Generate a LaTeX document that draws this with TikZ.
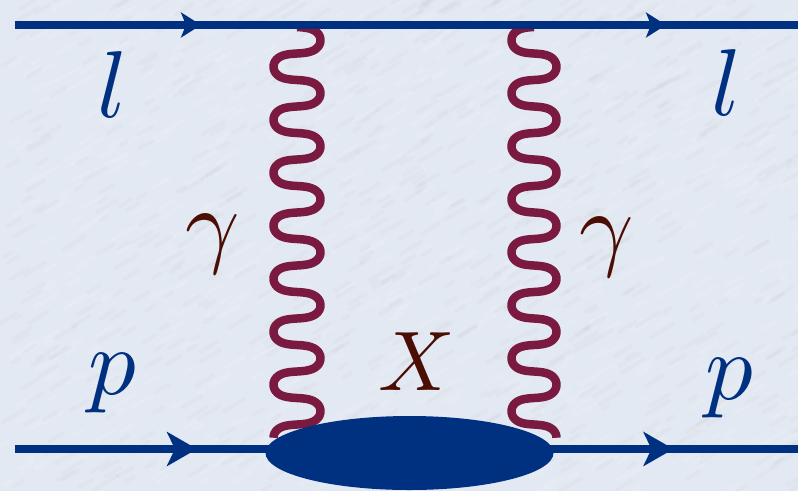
\documentclass[tikz,border=0pt]{standalone}
\usetikzlibrary{shapes.geometric,arrows.meta,decorations.markings,backgrounds}
\definecolor{paper}{HTML}{E3E9F2}
\definecolor{fermion}{HTML}{003080}
\definecolor{boson}{HTML}{7A1A40}
\definecolor{darkred}{HTML}{4A0E05}
\tikzset{
  fermionline/.style={draw=fermion,line width=8pt},
  tipsmall/.style={postaction={decorate},decoration={markings,mark=at position #1 with {\arrow[fermion]{Stealth[length=20pt,width=25pt,inset=5pt]}}}},
  tipbig/.style={postaction={decorate},decoration={markings,mark=at position #1 with {\arrow[fermion]{Stealth[length=30pt,width=34pt,inset=8pt]}}}},
  photonline/.style={draw=boson,line width=8.5pt,line join=round},
  blob/.style={ellipse,fill=fermion,inner sep=0pt,minimum width=288pt,minimum height=74pt},
  lab/.style={anchor=base,text=fermion,scale=9.5,inner sep=0pt},
  labr/.style={anchor=base,text=darkred,scale=9.5,inner sep=0pt},
  streak/.style={line width=4pt,line cap=round,opacity=.09},
}
\begin{document}
\begin{tikzpicture}[x=1pt,y=-1pt]
\useasboundingbox (0,0) rectangle (798,491);
\coordinate (tl) at (15,25);
\coordinate (tr) at (798,25);
\coordinate (bl) at (15,449);
\coordinate (br) at (798,449);
\coordinate (ph1) at (297,27);
\coordinate (ph2) at (534,27);
\node[blob] (x) at (409.5,453) {};
\begin{pgfonlayer}{background}
\clip (0,0) rectangle (798,491);
\fill[paper] (0,0) rectangle (798,491);
\pgfmathsetseed{7}
\foreach \i in {1,...,700}{
  \pgfmathsetmacro{\sx}{random(0,798)}
  \pgfmathsetmacro{\sy}{random(0,491)}
  \pgfmathsetmacro{\sl}{random(6,22)}
  \draw[streak,white] (\sx,\sy) -- ++(\sl,-\sl*.6);
  \pgfmathsetmacro{\sx}{random(0,798)}
  \pgfmathsetmacro{\sy}{random(0,491)}
  \draw[streak,gray,opacity=.04] (\sx,\sy) -- ++(\sl,-\sl*.6);
}
\draw[photonline,shift={(ph1)}] plot[smooth,domain=0:2790,samples=360,variable=\t] ({23.5*sin(\t)},{\t/360*53-3.5*sin(2*\t)});
\draw[photonline,shift={(ph2)}] plot[smooth,domain=0:2790,samples=360,variable=\t] ({-22.5*sin(\t)},{\t/360*53-3.5*sin(2*\t)});
\draw[fermionline,tipsmall=186pt] (tl) -- (tr);
\draw[fermionline,tipsmall=651pt] (tl) -- (tr);
\draw[fermionline,tipbig=182pt] (bl) -- (bl -| x.center);
\draw[fermionline,tipbig=264pt] (br -| x.center) -- (br);
\end{pgfonlayer}
\node[lab] (l1) at (113,117) {$l$};
\node[lab] (l2) at (727,115) {$l$};
\node[lab] (p1) at (112,394) {$p$};
\node[lab] (p2) at (729,399) {$p$};
\node[labr] (g1) at (213,255) {$\gamma$};
\node[labr] (g2) at (607,258) {$\gamma$};
\node[labr,scale=.89] (xl) at (417,390) {$X$};
\end{tikzpicture}
\end{document}
